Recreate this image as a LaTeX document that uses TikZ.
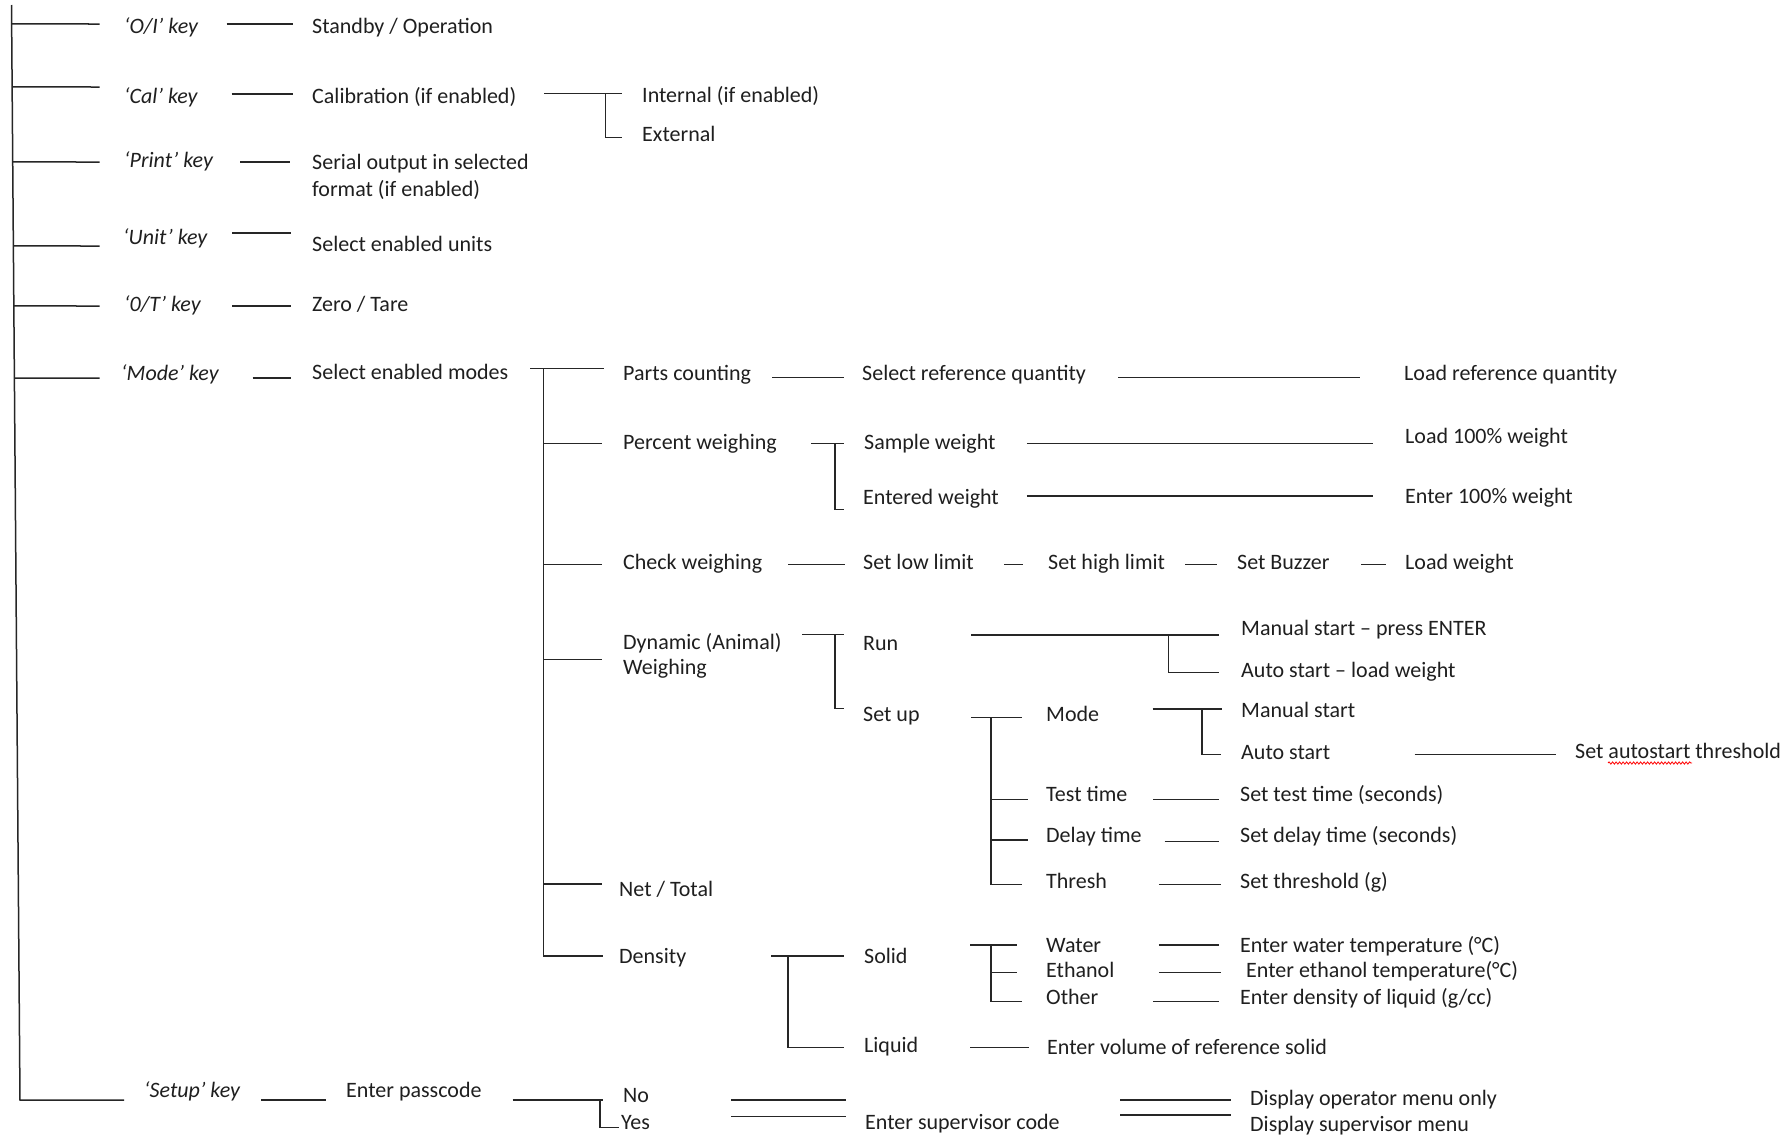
\documentclass[tikz,border=0pt]{standalone}
\usepackage{fontspec}
\setmainfont{Carlito}
\usetikzlibrary{calc,decorations.pathmorphing}
\begin{document}
\begin{tikzpicture}[x=1pt,y=-1pt,
  lbl/.style={anchor=base west, inner sep=0pt, text=black!88, font=\fontsize{22}{26}\selectfont},
  keylbl/.style={lbl, font=\fontsize{22}{26}\selectfont\itshape},
  ln/.style={line width=1.5pt, black!85}]
\useasboundingbox[fill=white] (0,0) rectangle (1785,1135);
% ---------- trunk ----------
\coordinate (tt) at (11.5,5);
\coordinate (tb) at (20,1100);
\draw[ln] (tt) -- (tb) -- (124,1100);
\foreach \yy in {24,87,162,246,306,378}
  \draw[ln] ($(tt)!{(\yy-5)/1095}!(tb)$) -- (99.5,\yy);
% ---------- keys ----------
\node[keylbl] (k1) at (124,33) {‘O/I’ key};
\node[keylbl] (k2) at (124,103) {‘Cal’ key};
\node[keylbl] (k3) at (124,167) {‘Print’ key};
\node[keylbl] (k4) at (123,244) {‘Unit’ key};
\node[keylbl] (k5) at (124,311) {‘0/T’ key};
\node[keylbl] (k6) at (121,380) {‘Mode’ key};
\node[keylbl] (k7) at (144,1097) {‘Setup’ key};
\draw[ln] (226.5,24) -- (293,24);
\draw[ln] (231.5,94) -- (293,94);
\draw[ln] (240,162) -- (290,162);
\draw[ln] (232,233) -- (291,233);
\draw[ln] (232,306) -- (291,306);
\draw[ln] (252.6,378) -- (291,378);
\draw[ln] (261,1100) -- (326,1100);
% ---------- level 2 ----------
\node[lbl] (a1) at (312,33) {Standby / Operation};
\node[lbl] (a2) at (312,103) {Calibration (if enabled)};
\node[lbl] (a3) at (312,169) {Serial output in selected};
\node[lbl] (a3b) at (312,196) {format (if enabled)};
\node[lbl] (a4) at (312,251) {Select enabled units};
\node[lbl] (a5) at (312,311) {Zero / Tare};
\node[lbl] (a6) at (312,379) {Select enabled modes};
\node[lbl] (a7) at (346,1097) {Enter passcode};
% Cal
\draw[ln] (544,93.3) -- (621.7,93.3);
\draw[ln] (605.7,93.3) -- (605.7,137.7) -- (621.7,137.7);
\node[lbl] (c1) at (642,102.7) {Internal (if enabled)};
\node[lbl] (c2) at (642,141) {External};
% ---------- modes ----------
\draw[ln] (530,368.3) -- (603.6,368.3);
\draw[ln] (543.5,368.3) -- (543.5,956) -- (603,956);
\foreach \yy in {443.3,564.3,659.3,884}
  \draw[ln] (543.5,\yy) -- (602,\yy);
\node[lbl] (m1) at (623,380) {Parts counting};
\node[lbl] (m2) at (623,449) {Percent weighing};
\node[lbl] (m3) at (623,569) {Check weighing};
\node[lbl] (m4) at (623,649) {Dynamic (Animal)};
\node[lbl] (m4b) at (623,674) {Weighing};
\node[lbl] (m5) at (619,896) {Net / Total};
\node[lbl] (m6) at (619,963) {Density};
% parts counting
\draw[ln] (772,377.7) -- (843.7,377.7);
\node[lbl] (p1) at (862,380) {Select reference quantity};
\draw[ln] (1118,377.3) -- (1360,377.3);
\node[lbl] (p2) at (1404,380) {Load reference quantity};
% percent
\draw[ln] (811,443.3) -- (843.7,443.3);
\draw[ln] (834.8,443.3) -- (834.8,509.3) -- (843.7,509.3);
\node[lbl] (q1) at (864,449) {Sample weight};
\node[lbl] (q2) at (863,504) {Entered weight};
\draw[ln] (1026.8,443.3) -- (1373,443.3);
\draw[ln] (1026.8,496) -- (1373,496);
\node[lbl] (q3) at (1405,443) {Load 100\% weight};
\node[lbl] (q4) at (1405,503) {Enter 100\% weight};
% check
\draw[ln] (788,564.3) -- (845,564.3);
\node[lbl] (r1) at (863,569) {Set low limit};
\draw[ln] (1004,564.3) -- (1023,564.3);
\node[lbl] (r2) at (1048,569) {Set high limit};
\draw[ln] (1185,564.3) -- (1217,564.3);
\node[lbl] (r3) at (1237,569) {Set Buzzer};
\draw[ln] (1361,564.3) -- (1386,564.3);
\node[lbl] (r4) at (1405,569) {Load weight};
% dynamic
\draw[ln] (802,634.3) -- (843.7,634.3);
\draw[ln] (834.8,634.3) -- (834.8,708.3) -- (843.7,708.3);
\node[lbl] (d1) at (863,650) {Run};
\node[lbl] (d2) at (863,721) {Set up};
\draw[ln] (971,635) -- (1219,635);
\draw[ln] (1168.6,635) -- (1168.6,672.3) -- (1219,672.3);
\node[lbl] (d3) at (1241,635) {Manual start – press ENTER};
\node[lbl] (d4) at (1241,677) {Auto start – load weight};
\draw[ln] (971,717.7) -- (1022,717.7);
\draw[ln] (991,717.7) -- (991,884.3) -- (1022,884.3);
\draw[ln] (991,799.3) -- (1028,799.3);
\draw[ln] (991,840) -- (1028,840);
\node[lbl] (s1) at (1046,721) {Mode};
\node[lbl] (s2) at (1046,801) {Test time};
\node[lbl] (s3) at (1046,842) {Delay time};
\node[lbl] (s4) at (1046,888) {Thresh};
\draw[ln] (1152.6,709) -- (1221.5,709);
\draw[ln] (1201.8,709) -- (1201.8,754.3) -- (1221,754.3);
\node[lbl] (t1) at (1241,717) {Manual start};
\node[lbl] (t2) at (1241,759) {Auto start};
\draw[ln] (1414.6,754.3) -- (1555.7,754.3);
\node[lbl] (t3) at (1575,758) {Set autostart threshold};
\draw[red, line width=0.8pt, decorate, decoration={snake, amplitude=1.1pt, segment length=3.5pt}] (1608,763) -- (1692,763);
\draw[ln] (1153,799.3) -- (1219,799.3);
\draw[ln] (1164.6,841.7) -- (1219,841.7);
\draw[ln] (1158.8,884.3) -- (1221,884.3);
\node[lbl] (u1) at (1240,801) {Set test time (seconds)};
\node[lbl] (u2) at (1240,842) {Set delay time (seconds)};
\node[lbl] (u3) at (1240,888) {Set threshold (g)};
% density
\draw[ln] (771,956) -- (844.4,956);
\draw[ln] (787.8,956) -- (787.8,1047.3) -- (844.4,1047.3);
\node[lbl] (e1) at (864,963) {Solid};
\node[lbl] (e2) at (864,1052) {Liquid};
\draw[ln] (970,945) -- (1017.4,945);
\draw[ln] (991,945) -- (991,1001.7) -- (1022,1001.7);
\draw[ln] (991,972.7) -- (1017,972.7);
\node[lbl] (w1) at (1046,952) {Water};
\node[lbl] (w2) at (1046,977) {Ethanol};
\node[lbl] (w3) at (1046,1004) {Other};
\draw[ln] (1158.8,945) -- (1219,945);
\draw[ln] (1158.8,972.7) -- (1221,972.7);
\draw[ln] (1153,1001.7) -- (1219,1001.7);
\node[lbl] (x1) at (1240,952) {Enter water temperature (°C)};
\node[lbl] (x2) at (1246,977) {Enter ethanol temperature(°C)};
\node[lbl] (x3) at (1240,1004) {Enter density of liquid (g/cc)};
\draw[ln] (970,1047.3) -- (1029,1047.3);
\node[lbl] (x4) at (1047,1054) {Enter volume of reference solid};
% setup
\draw[ln] (512.5,1100) -- (603,1100);
\draw[ln] (600,1100) -- (600,1127.7) -- (619,1127.7);
\node[lbl] (n1) at (623,1102) {No};
\node[lbl] (n2) at (621,1129) {Yes};
\draw[ln] (731,1100) -- (845.6,1100);
\draw[ln] (731,1116.7) -- (845.6,1116.7);
\node[lbl] (n3) at (865,1129) {Enter supervisor code};
\draw[ln] (1120,1100) -- (1231,1100);
\draw[ln] (1120,1115) -- (1231,1115);
\node[lbl] (n4) at (1250,1105) {Display operator menu only};
\node[lbl] (n5) at (1250,1131) {Display supervisor menu};
\end{tikzpicture}
\end{document}
